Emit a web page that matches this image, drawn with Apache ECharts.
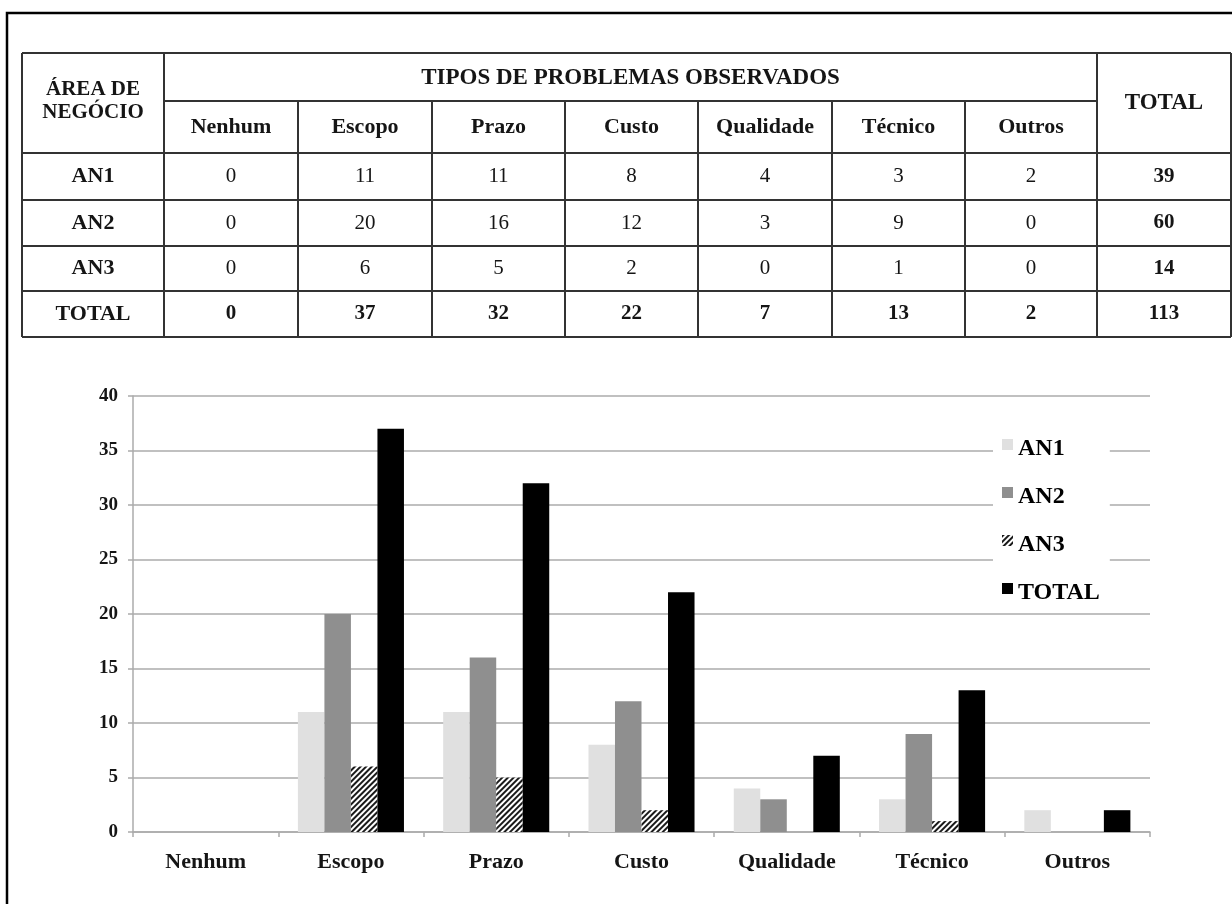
<!DOCTYPE html>
<html>
<head>
<meta charset="utf-8">
<title>Tipos de problemas observados por área de negócio</title>
<script src="https://cdn.jsdelivr.net/npm/echarts@6/dist/echarts.min.js"></script>
<style>
  html, body { margin: 0; padding: 0; background: #fff; }
  #chart { width: 1232px; height: 904px; }
</style>
</head>
<body>
<div id="chart"></div>
<script>
// ---- data ----
const categories = ['Nenhum', 'Escopo', 'Prazo', 'Custo', 'Qualidade', 'Técnico', 'Outros'];
const areas = ['AN1', 'AN2', 'AN3'];
const an1 = [0, 11, 11, 8, 4, 3, 2];
const an2 = [0, 20, 16, 12, 3, 9, 0];
const an3 = [0, 6, 5, 2, 0, 1, 0];
const total = [0, 37, 32, 22, 7, 13, 2];
const rowTotals = [39, 60, 14];
const grandTotal = 113;
const seriesNames = ['AN1', 'AN2', 'AN3', 'TOTAL'];
const tableTitle = 'TIPOS DE PROBLEMAS OBSERVADOS';
const areaHeader = 'ÁREA DE\nNEGÓCIO';
const totalHeader = 'TOTAL';

// ---- table layout (pixels) ----
const colEdges = [22, 164, 298, 432, 565, 698, 832, 965, 1097, 1231];
const rowEdges = [53, 101, 153, 200, 246, 291, 337];
const FONT = '"Liberation Serif", "Times New Roman", serif';
const ink = '#151515';
const rule = '#333333';

function hLine(y, x1, x2) {
  return { type: 'line', silent: true, shape: { x1: x1, y1: y, x2: x2, y2: y },
           style: { stroke: rule, lineWidth: 2 } };
}
function vLine(x, y1, y2) {
  return { type: 'line', silent: true, shape: { x1: x, y1: y1, x2: x, y2: y2 },
           style: { stroke: rule, lineWidth: 2 } };
}
function cellText(str, cx, cy, bold, size, lh) {
  return {
    type: 'text', silent: true, x: cx, y: cy,
    style: {
      text: String(str), x: 0, y: 0,
      align: 'center', verticalAlign: 'middle',
      textAlign: 'center', textVerticalAlign: 'middle',
      font: (bold ? 'bold ' : '') + size + 'px ' + FONT,
      lineHeight: lh || size,
      fill: ink
    }
  };
}
function midX(i) { return (colEdges[i] + colEdges[i + 1]) / 2; }
function midY(i) { return (rowEdges[i] + rowEdges[i + 1]) / 2; }

const tableEls = [];
const tLeft = colEdges[0], tRight = colEdges[colEdges.length - 1];
const tTop = rowEdges[0], tBottom = rowEdges[rowEdges.length - 1];
// horizontal rules
[rowEdges[0], rowEdges[2], rowEdges[3], rowEdges[4], rowEdges[5], rowEdges[6]].forEach(function (y) {
  tableEls.push(hLine(y, tLeft, tRight));
});
tableEls.push(hLine(rowEdges[1], colEdges[1], colEdges[colEdges.length - 2]));
// vertical rules
[colEdges[0], colEdges[1], colEdges[colEdges.length - 2], colEdges[colEdges.length - 1]].forEach(function (x) {
  tableEls.push(vLine(x, tTop, tBottom));
});
for (let i = 2; i < colEdges.length - 2; i++) tableEls.push(vLine(colEdges[i], rowEdges[1], tBottom));

// header texts
tableEls.push(cellText(areaHeader, midX(0), (rowEdges[0] + rowEdges[2]) / 2 - 2, true, 21, 23));
tableEls.push(cellText(tableTitle, (colEdges[1] + colEdges[colEdges.length - 2]) / 2, midY(0) + 1, true, 23));
tableEls.push(cellText(totalHeader, midX(colEdges.length - 2), (rowEdges[0] + rowEdges[2]) / 2, true, 23));
categories.forEach(function (c, j) {
  tableEls.push(cellText(c, midX(j + 1), midY(1), true, 22));
});
// body rows
const bodyRows = [an1, an2, an3];
bodyRows.forEach(function (row, r) {
  tableEls.push(cellText(areas[r], midX(0), midY(r + 2), true, 22));
  row.forEach(function (v, j) {
    tableEls.push(cellText(v, midX(j + 1), midY(r + 2), false, 21));
  });
  tableEls.push(cellText(rowTotals[r], midX(colEdges.length - 2), midY(r + 2), true, 21));
});
// total row
tableEls.push(cellText('TOTAL', midX(0), midY(5), true, 22));
total.forEach(function (v, j) {
  tableEls.push(cellText(v, midX(j + 1), midY(5), true, 21));
});
tableEls.push(cellText(grandTotal, midX(colEdges.length - 2), midY(5), true, 21));

// page frame (top and left edges visible)
tableEls.unshift({
  type: 'rect', silent: true,
  shape: { x: 7, y: 13, width: 1260, height: 920 },
  style: { fill: 'none', stroke: '#000', lineWidth: 2.5 }
});

// ---- chart ----
const chart = echarts.init(document.getElementById('chart'), null, { renderer: 'canvas' });
const gridColor = '#ababab';
const labelStyle = { fontFamily: FONT, fontWeight: 'bold', color: ink };

// diagonal "////" hatching for AN3
const hatch = {
  symbol: 'rect', symbolSize: 1, color: '#1a1a1a',
  dashArrayX: [1, 0], dashArrayY: [2, 2],
  rotation: -Math.PI / 4
};

const seriesData = [an1, an2, an3, total];
const seriesStyle = [
  { color: '#e0e0e0' },
  { color: '#8f8f8f' },
  { color: '#ffffff', decal: hatch },
  { color: '#000000' }
];

// legend key: square sitting at the top of a taller slot, so it lines up with the cap height
const legendIcon = 'path://M0 0H11V11H0Z M0 19.9H0.1V20H0Z';

chart.setOption({
  animation: false,
  backgroundColor: '#fff',
  graphic: { elements: tableEls },
  grid: { left: 133, right: 82, top: 396, bottom: 72, containLabel: false },
  legend: {
    orient: 'vertical', left: 993, top: 427,
    data: seriesNames,
    icon: legendIcon, itemWidth: 11, itemHeight: 20, itemGap: 24,
    backgroundColor: '#fff',
    padding: [10, 10, 4, 9],
    selectedMode: false,
    textStyle: {
      fontFamily: 'Liberation Serif', fontWeight: 700, fontSize: 24, color: '#000', lineHeight: 24
    }
  },
  xAxis: {
    type: 'category', data: categories,
    axisLine: { lineStyle: { color: gridColor, width: 1.5 } },
    axisTick: { show: true, alignWithLabel: false, length: 5, lineStyle: { color: gridColor, width: 1.5 } },
    axisLabel: Object.assign({ fontSize: 22, margin: 19 }, labelStyle),
    splitLine: { show: false }
  },
  yAxis: {
    type: 'value', min: 0, max: 40, interval: 5,
    axisLine: { show: true, lineStyle: { color: gridColor, width: 1.5 } },
    axisTick: { show: true, length: 5, lineStyle: { color: gridColor, width: 1.5 } },
    axisLabel: Object.assign({ fontSize: 19, margin: 15 }, labelStyle),
    splitLine: { show: true, lineStyle: { color: gridColor, width: 1.5 } }
  },
  series: seriesNames.map(function (name, i) {
    return {
      name: name, type: 'bar',
      data: seriesData[i],
      barGap: '0%', barCategoryGap: '27%',
      itemStyle: seriesStyle[i],
      emphasis: { disabled: true }
    };
  })
});
</script>
</body>
</html>
